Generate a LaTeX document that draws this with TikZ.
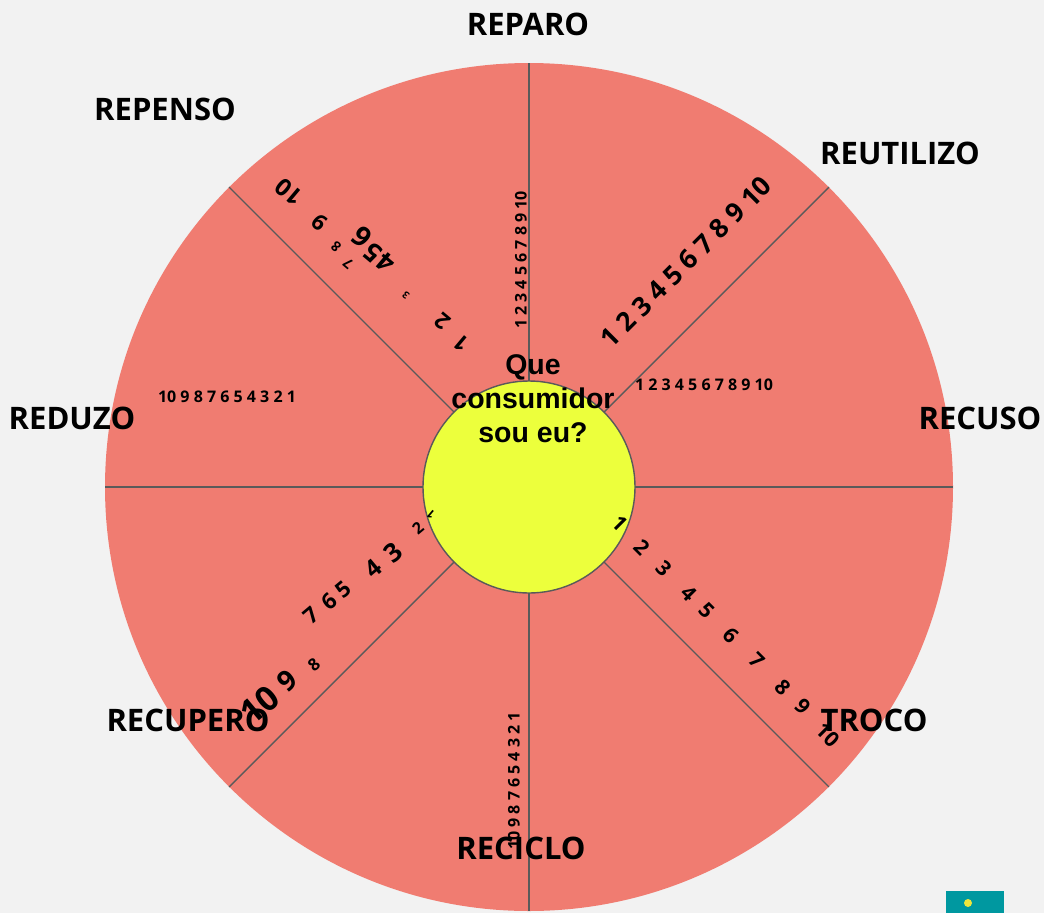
\documentclass[tikz,border=0pt]{standalone}
\usepackage{fontspec}
\setmainfont{Open Sans}
\newfontfamily\qfont{Liberation Sans}
\definecolor{bg}{RGB}{242,242,242}
\definecolor{wheelc}{RGB}{240,124,113}
\definecolor{hubc}{RGB}{236,255,60}
\definecolor{linec}{RGB}{90,90,90}
\definecolor{tealc}{RGB}{0,152,160}
\definecolor{iconc}{RGB}{240,230,60}
\tikzset{
  spoke/.style={draw=linec, line width=1.4pt},
  dig/.style={font=\bfseries\fontsize{#1}{#1}\selectfont, inner sep=0pt, text=black},
  lab/.style={font=\bfseries\fontsize{31}{34}\selectfont, inner sep=0pt, text=black},
}
\begin{document}
\begin{tikzpicture}[x=1pt,y=-1pt]
\useasboundingbox (0,0) rectangle (1044,913);
\fill[bg] (0,0) rectangle (1044,913);
\node[circle, minimum size=848pt, inner sep=0pt, fill=wheelc] (wheel) at (529,487) {};
\foreach \a in {0,45,90,135,180,225,270,315}
  \draw[spoke] (wheel.center) -- (wheel.\a);
\node[circle, minimum size=212pt, inner sep=0pt, fill=hubc, draw=linec, line width=1.4pt] (hub) at (529,487) {};
% straight number strings
\node[dig=16, rotate=90] (sReparo) at (521,260) {1 2 3 4 5 6 7 8 9 10};
\node[dig=26.5, rotate=45] (sReutil) at (686,262) {1 2 3 4 5 6 7 8 9 10};
\node[dig=16] (sRecuso) at (704,385) {1 2 3 4 5 6 7 8 9 10};
\node[dig=16, rotate=90] (sReciclo) at (514,781) {10 9 8 7 6 5 4 3 2 1};
\node[dig=16] (sReduzo) at (227,397) {10 9 8 7 6 5 4 3 2 1};
% TROCO digits
\foreach \d/\x/\y in {1/620/523,2/642/547,3/664/568,4/689/593,5/707/611,6/731/635,7/757/660,8/783/687,9/803/706,10/828/735}
  \node[dig=21, rotate=-45] (tr\d) at (\x,\y) {\d};
% RECUPERO digits
\foreach \d/\x/\y/\s/\r in {1/431/515/12/140,2/418/528/16/40,3/393/553/26/40,4/373/569/24/40,5/343/590/22/40,6/329/601/22/40,7/311/615/22/40,8/314/665/17/40,9/287/681/28/40,10/260/705/34/40}
  \node[dig=\s, rotate=\r] (rc\d) at (\x,\y) {\d};
% REPENSO digits
\foreach \d/\x/\y/\s/\r in {1/462/343/22/140,2/443/322/22/140,3/406/295/10/140,4/386/263/26/140,5/373/253/26/140,6/362/237/28/140,7/348/264/14/140,8/336/247/14/140,9/320/222/22/140,10/289/192/24/140}
  \node[dig=\s, rotate=\r] (rp\d) at (\x,\y) {\d};
% centre text
\node[align=center, inner sep=0pt, font=\qfont\bfseries\fontsize{28.5}{34}\selectfont] (question) at (533,399) {Que\\consumidor\\sou eu?};
% labels
\node[lab] (lReparo) at (528,24) {REPARO};
\node[lab] (lReutil) at (900,153) {REUTILIZO};
\node[lab] (lRecuso) at (980,418) {RECUSO};
\node[lab] (lTroco) at (874,720) {TROCO};
\node[lab] (lReciclo) at (521,848) {RECICLO};
\node[lab] (lRecupero) at (188,720) {RECUPERO};
\node[lab] (lReduzo) at (72,418) {REDUZO};
\node[lab] (lRepenso) at (165,109) {REPENSO};
% corner widget
\fill[tealc] (946,891) rectangle (1004,913);
\fill[iconc] (968,903) circle[radius=4pt];
\end{tikzpicture}
\end{document}
